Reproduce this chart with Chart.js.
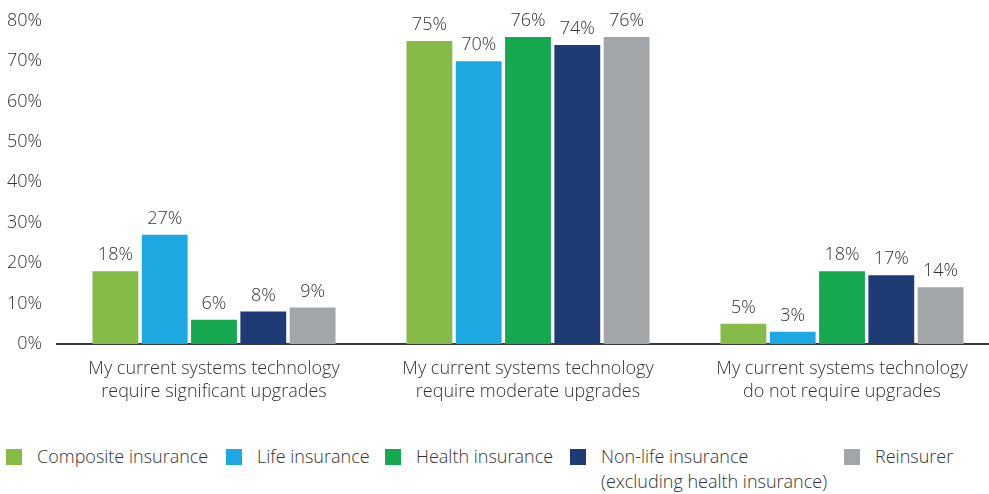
<!DOCTYPE html>
<html>
<head>
<meta charset="utf-8">
<script src="https://cdn.jsdelivr.net/npm/chart.js@4/dist/chart.umd.min.js"></script>
<style>
  html, body { margin: 0; padding: 0; background: #fff; overflow: hidden; }
  #wrap { position: relative; width: 1000px; height: 494px; }
  #chartBox { position: absolute; left: 0; top: -5px; width: 1000px; height: 421px; }
  #legend { position: absolute; left: 0; top: 447px; width: 989px; height: 47px;
            font-family: "Open Sans", sans-serif; font-weight: 300; font-size: 18px; color: #333; }
  .item { position: absolute; top: 0; display: flex; align-items: flex-start; }
  .swatch { width: 16px; height: 16px; margin-top: 2px; margin-right: 15px; flex: none; }
  .txt { line-height: 25px; margin-top: -3px; white-space: nowrap; }
</style>
</head>
<body>
<div id="wrap">
  <div id="chartBox"><canvas id="c"></canvas></div>
  <div id="legend"></div>
</div>
<script>
// Survey answers, three statements
const categories = [
  ["My current systems technology", "require significant upgrades"],
  ["My current systems technology", "require moderate upgrades"],
  ["My current systems technology", "do not require upgrades"]
];

// Share of respondents (%) per insurer type
const composite = [18, 75, 5];
const life      = [27, 70, 3];
const health    = [6, 76, 18];
const nonLife   = [8, 74, 17];
const reinsurer = [9, 76, 14];

const seriesNames = [
  "Composite insurance",
  "Life insurance",
  "Health insurance",
  ["Non-life insurance", "(excluding health insurance)"],
  "Reinsurer"
];
const seriesColors = ["#86BB48", "#1CA8E0", "#15A84F", "#1F3B76", "#A3A6A9"];
const seriesValues = [composite, life, health, nonLife, reinsurer];

const yTicks = [0, 10, 20, 30, 40, 50, 60, 70, 80];

const FONT = "Open Sans";
const TEXT = "#333333";

// Percent labels above each bar
const valueLabels = {
  id: "valueLabels",
  afterDatasetsDraw(chart) {
    const ctx = chart.ctx;
    ctx.save();
    ctx.font = "300 18px '" + FONT + "'";
    ctx.fillStyle = TEXT;
    ctx.textAlign = "center";
    ctx.textBaseline = "alphabetic";
    chart.data.datasets.forEach((ds, i) => {
      chart.getDatasetMeta(i).data.forEach((bar, j) => {
        ctx.fillText(ds.data[j] + "%", bar.x, bar.y - 11);
      });
    });
    ctx.restore();
  }
};

new Chart(document.getElementById("c"), {
  type: "bar",
  data: {
    labels: categories,
    datasets: seriesValues.map((vals, i) => ({
      label: Array.isArray(seriesNames[i]) ? seriesNames[i].join(" ") : seriesNames[i],
      data: vals,
      backgroundColor: seriesColors[i],
      borderWidth: 0,
      categoryPercentage: 0.785,
      barPercentage: 0.93
    }))
  },
  options: {
    responsive: true,
    maintainAspectRatio: false,
    animation: false,
    layout: { padding: { left: 0, right: 1, top: 5, bottom: 0 } },
    plugins: {
      legend: { display: false },
      tooltip: { enabled: false }
    },
    scales: {
      x: {
        grid: { display: false, drawTicks: false },
        border: { display: true, color: "#3a3a3a", width: 2 },
        ticks: {
          color: TEXT,
          padding: 13,
          font: { family: FONT, size: 18, weight: 300, lineHeight: 1.28 }
        }
      },
      y: {
        min: 0,
        max: 80,
        afterBuildTicks: s => { s.ticks = yTicks.map(v => ({ value: v })); },
        afterFit: s => { s.width = 57; },
        grid: { display: false, drawTicks: false },
        border: { display: false },
        ticks: {
          color: TEXT,
          padding: 15,
          font: { family: FONT, size: 18, weight: 300 },
          callback: v => v + "%"
        }
      }
    }
  },
  plugins: [valueLabels]
});

// Legend row under the chart
const legendLeft = [6, 226, 385, 570, 844];
const legend = document.getElementById("legend");
seriesNames.forEach((name, i) => {
  const item = document.createElement("div");
  item.className = "item";
  item.style.left = legendLeft[i] + "px";
  const sw = document.createElement("div");
  sw.className = "swatch";
  sw.style.background = seriesColors[i];
  const t = document.createElement("div");
  t.className = "txt";
  (Array.isArray(name) ? name : [name]).forEach((line, k) => {
    if (k) t.appendChild(document.createElement("br"));
    t.appendChild(document.createTextNode(line));
  });
  item.appendChild(sw);
  item.appendChild(t);
  legend.appendChild(item);
});
</script>
</body>
</html>
